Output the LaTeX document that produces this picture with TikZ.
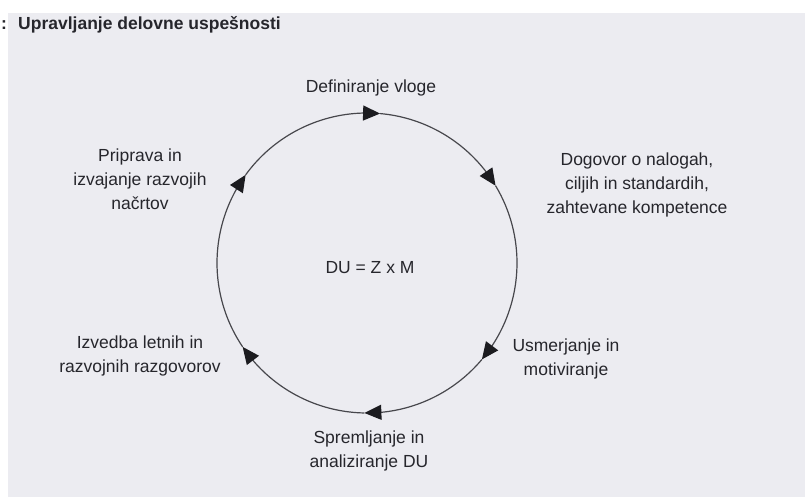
\documentclass[tikz,border=0pt]{standalone}
\usepackage{fontspec}
\setmainfont{Liberation Sans}
\usetikzlibrary{arrows.meta,bending}
\definecolor{paper}{RGB}{236,236,241}
\definecolor{ink}{RGB}{38,38,44}
\definecolor{tipink}{RGB}{28,28,32}
\begin{document}
\begin{tikzpicture}[x=1pt,y=1pt,
  lbl/.style={font=\fontsize{17.5}{24}\selectfont, text=ink, align=center, inner sep=0pt},
  ttl/.style={font=\fontsize{17.5}{24}\selectfont\bfseries, text=ink, inner sep=0pt},
  cyc/.style={draw=ink!85!white, line width=1.2pt, -{Triangle[length=17pt,width=15pt,color=tipink]}}]
\fill[white] (0,0) rectangle (805,497);
\fill[paper] (8,0) rectangle (805,484);
\useasboundingbox (0,0) rectangle (805,497);

\node[ttl, anchor=base west] (colon) at (1,467) {:};
\node[ttl, anchor=base west] (title) at (18,467) {Upravljanje delovne uspešnosti};

\coordinate (O) at (367,234);
\path (O) ++(85:150) coordinate (t1);
\path (O) ++(31:150) coordinate (t2);
\path (O) ++(-40:150) coordinate (t3);
\path (O) ++(-91:150) coordinate (t4);
\path (O) ++(-146:150) coordinate (t5);
\path (O) ++(144:150) coordinate (t6);

\draw[cyc] (t1) arc[start angle=85, end angle=31, radius=150];
\draw[cyc] (t2) arc[start angle=31, end angle=-40, radius=150];
\draw[cyc] (t3) arc[start angle=-40, end angle=-91, radius=150];
\draw[cyc] (t4) arc[start angle=-91, end angle=-146, radius=150];
\draw[cyc] (t5) arc[start angle=-146, end angle=-216, radius=150];
\draw[cyc] (t6) arc[start angle=144, end angle=85, radius=150];

\node[lbl, anchor=base] (def) at (371,404) {Definiranje vloge};
\node[lbl] (dog) at (637,312) {Dogovor o nalogah,\\ciljih in standardih,\\zahtevane kompetence};
\node[lbl] (usm) at (566,138) {Usmerjanje in\\motiviranje};
\node[lbl] (spr) at (369,46) {Spremljanje in\\analiziranje DU};
\node[lbl] (izv) at (140,141) {Izvedba letnih in\\razvojnih razgovorov};
\node[lbl] (pri) at (140,318) {Priprava in\\izvajanje razvojih\\načrtov};
\node[lbl] (du) at (370,229) {DU = Z x M};
\end{tikzpicture}
\end{document}
